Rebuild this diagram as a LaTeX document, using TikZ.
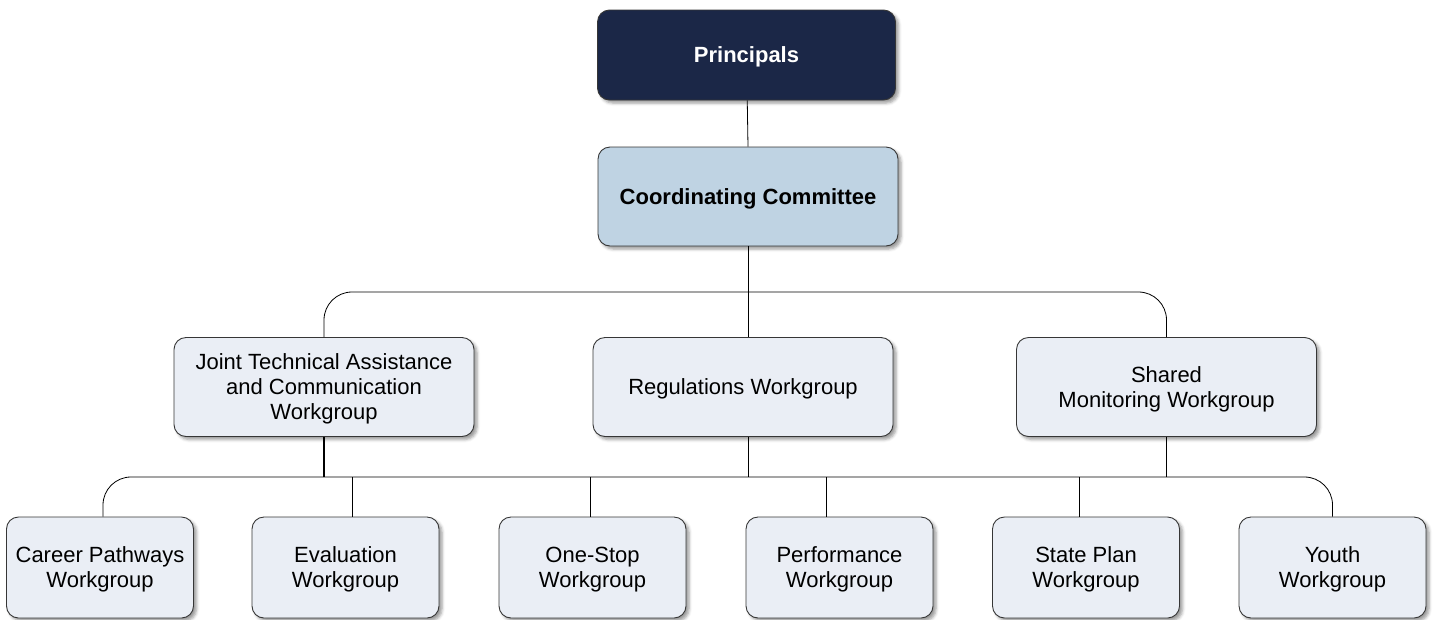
\documentclass[tikz,border=0pt]{standalone}
\usepackage{fontspec}
\setmainfont{Liberation Sans}
\usetikzlibrary{shadows.blur}

\definecolor{navy}{HTML}{1B2747}
\definecolor{committee}{HTML}{BFD3E3}
\definecolor{groupfill}{HTML}{EAEEF5}
\definecolor{edge}{HTML}{363636}

\begin{document}
\begin{tikzpicture}[x = 1pt, y = -1pt,
	box/.style = {draw = edge, line width = 0.9pt, rounded corners = 12pt, align = center,
		font = \fontsize{22}{25}\selectfont, inner sep = 0pt, text depth = -2pt,
		blur shadow = {shadow xshift = 3pt, shadow yshift = -3pt, shadow blur radius = 3pt, shadow opacity = 40}},
	headbox/.style = {box, fill = navy, text = white, font = \fontsize{22}{25}\selectfont\bfseries,
		minimum width = 298pt, minimum height = 90pt},
	chairbox/.style = {box, fill = committee, font = \fontsize{22}{25}\selectfont\bfseries,
		minimum width = 300pt, minimum height = 99pt},
	groupbox/.style = {box, fill = groupfill, minimum width = 300pt, minimum height = 99pt},
	leafbox/.style = {box, fill = groupfill, minimum width = 187pt, minimum height = 101pt},
	link/.style = {draw = black, line width = 0.8pt},
	bus/.style = {link, rounded corners = 28pt}]

	\useasboundingbox (0, 0) rectangle (1435, 619);

	% Top of the chart

	\node [headbox] (princ) at (746.5, 55) {Principals};
	\node [chairbox] (cc) at (748, 196.5) {Coordinating Committee};

	% Three main workgroups

	\node [groupbox] (jta) at (324, 387) {Joint Technical Assistance\\and Communication\\Workgroup};
	\node [groupbox] (reg) at (743, 387) {Regulations Workgroup};
	\node [groupbox] (smw) at (1166.5, 387) {Shared\\Monitoring Workgroup};

	% Six smaller workgroups

	\node [leafbox] (cpw) at (100, 567.5) {Career Pathways\\Workgroup};
	\node [leafbox] (evw) at (345.5, 567.5) {Evaluation\\Workgroup};
	\node [leafbox] (osw) at (592.5, 567.5) {One-Stop\\Workgroup};
	\node [leafbox] (pfw) at (839.5, 567.5) {Performance\\Workgroup};
	\node [leafbox] (spw) at (1086, 567.5) {State Plan\\Workgroup};
	\node [leafbox] (yw) at (1332.5, 567.5) {Youth\\Workgroup};

	% Bus lines

	\coordinate (topbus) at (748, 292);
	\coordinate (lowbus) at (748, 477);

	\draw [link] (princ) -- (cc.north);
	\draw [link] (cc.south) -- (reg.north -| cc.south);
	\draw [bus] (jta.north) |- (topbus) -| (smw.north);

	\draw [link, line width = 1.3pt] (jta.south) -- (jta.south |- lowbus);
	\draw [link] (reg.south -| lowbus) -- (lowbus);
	\draw [link] (smw.south) -- (smw.south |- lowbus);
	\draw [bus] ([xshift = 3pt] cpw.north) |- (lowbus) -| (yw.north);

	% Drops to the smaller workgroups

	\draw [link, line width = 1.3pt] ([xshift = 7pt] evw.north) -- ([xshift = 7pt] evw.north |- lowbus);
	\foreach \n/\dx in {osw/-2.5, pfw/-13.5, spw/-7}
		\draw [link] ([xshift = \dx pt] \n.north) -- ([xshift = \dx pt] \n.north |- lowbus);

\end{tikzpicture}
\end{document}
